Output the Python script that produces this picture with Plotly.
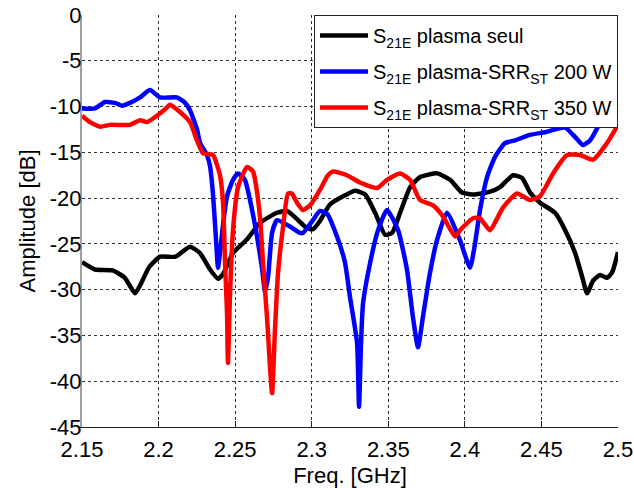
import plotly.graph_objects as go

# Frequency sweeps (GHz) and transmission amplitude S21E (dB)
freq_seul = [2.150, 2.1585, 2.170, 2.178, 2.1846, 2.188, 2.194, 2.201, 2.211, 2.2205,
             2.227, 2.2336, 2.2388, 2.2421, 2.2486, 2.2578, 2.2662, 2.2773, 2.2839, 2.2904,
             2.2969, 2.3008, 2.3054, 2.3119, 2.3217, 2.3283, 2.3349, 2.3414, 2.3479, 2.3525,
             2.3577, 2.3643, 2.3708, 2.3819, 2.3904, 2.3982, 2.4067, 2.4165, 2.4230, 2.4315,
             2.4374, 2.4426, 2.4491, 2.4589, 2.4655, 2.4720, 2.4766, 2.4798, 2.4838, 2.4883,
             2.4929, 2.4962, 2.5000]
s21_seul = [-27.0, -27.8, -27.9, -28.7, -30.4, -29.5, -27.5, -26.4, -26.4, -25.3,
            -26.0, -27.8, -28.8, -28.3, -26.0, -24.5, -22.7, -21.6, -21.4, -22.3,
            -23.3, -23.4, -22.5, -20.7, -19.7, -19.2, -19.6, -21.6, -24.0, -23.8,
            -21.6, -18.8, -17.7, -17.3, -18.0, -19.4, -19.6, -19.3, -18.8, -17.5,
            -17.8, -19.4, -20.5, -21.6, -23.5, -26.0, -28.6, -30.4, -29.0, -28.4,
            -28.7, -28.1, -25.9]

freq_200 = [2.150, 2.1585, 2.165, 2.1715, 2.176, 2.1813, 2.1879, 2.1944, 2.2009, 2.212,
            2.2173, 2.2205, 2.2251, 2.2271, 2.2316, 2.2336, 2.2355, 2.2375, 2.2388, 2.2401,
            2.2421, 2.2447, 2.2486, 2.2519, 2.2564, 2.2597, 2.2643, 2.2675, 2.2695, 2.2715,
            2.2741, 2.2773, 2.2858, 2.2924, 2.2943, 2.3008, 2.3054, 2.3100, 2.3165, 2.3217,
            2.3250, 2.3296, 2.3309, 2.3322, 2.3335, 2.3381, 2.3433, 2.3492, 2.3564, 2.3622,
            2.3661, 2.3694, 2.3726, 2.3772, 2.3818, 2.3883, 2.3968, 2.4034, 2.4066, 2.4099,
            2.4145, 2.4197, 2.4262, 2.4327, 2.4425, 2.4523, 2.4654, 2.4719, 2.4772, 2.4817,
            2.4869, 2.4915, 2.4961, 2.5000]
s21_200 = [-10.2, -10.2, -9.5, -9.6, -9.9, -9.6, -9.0, -8.2, -9.0, -9.0,
           -9.6, -10.4, -12.5, -14.0, -15.3, -16.5, -19.5, -24.5, -27.6, -26.0,
           -22.9, -19.8, -18.0, -17.3, -18.0, -20.2, -24.2, -27.6, -30.2, -28.6,
           -23.8, -22.4, -23.1, -23.8, -23.8, -22.4, -21.4, -21.7, -24.2, -27.0,
           -30.8, -35.8, -42.8, -35.8, -31.5, -27.1, -23.5, -21.3, -23.5, -27.8,
           -33.0, -36.3, -33.0, -28.2, -24.6, -21.6, -24.6, -27.6, -25.0, -21.3,
           -17.7, -15.5, -14.0, -13.7, -13.1, -12.8, -12.3, -13.3, -14.2, -13.7,
           -12.2, -10.5, -9.0, -8.0]

freq_350 = [2.150, 2.1552, 2.1618, 2.1683, 2.1813, 2.1879, 2.1924, 2.1990, 2.2042, 2.2075,
            2.2140, 2.2205, 2.2251, 2.2290, 2.2355, 2.2401, 2.2421, 2.2434, 2.2447, 2.2453,
            2.2466, 2.2486, 2.2519, 2.2578, 2.2617, 2.2630, 2.2662, 2.2682, 2.2708, 2.2741,
            2.2760, 2.2780, 2.2813, 2.2845, 2.2871, 2.2904, 2.2943, 2.2989, 2.3054, 2.3106,
            2.3139, 2.3230, 2.3315, 2.3426, 2.3492, 2.3577, 2.3642, 2.3707, 2.3792, 2.3857,
            2.3936, 2.3968, 2.4053, 2.4099, 2.4164, 2.4250, 2.4341, 2.4425, 2.4491, 2.4576,
            2.4667, 2.4752, 2.4837, 2.4928, 2.5000]
s21_350 = [-11.0, -11.7, -12.2, -12.0, -12.0, -11.5, -11.7, -11.0, -10.3, -9.8,
           -10.6, -11.7, -13.7, -15.1, -15.3, -17.5, -20.5, -27.1, -32.5, -38.0,
           -30.8, -23.5, -18.8, -16.6, -17.1, -18.0, -22.0, -27.1, -33.0, -41.3,
           -34.4, -28.2, -23.1, -19.5, -19.5, -20.5, -21.3, -20.8, -19.1, -17.5,
           -17.1, -17.5, -18.3, -18.9, -18.0, -17.3, -18.0, -20.2, -20.8, -22.0,
           -24.2, -23.5, -22.2, -22.2, -23.5, -21.0, -19.5, -20.2, -19.8, -17.3,
           -15.3, -15.3, -15.8, -14.0, -12.0]

x_ticks = [2.15, 2.2, 2.25, 2.3, 2.35, 2.4, 2.45, 2.5]
x_tick_text = ["2.15", "2.2", "2.25", "2.3", "2.35", "2.4", "2.45", "2.5"]
y_ticks = [0, -5, -10, -15, -20, -25, -30, -35, -40, -45]
y_tick_text = ["0", "-5", "-10", "-15", "-20", "-25", "-30", "-35", "-40", "-45"]

series = [
    (freq_seul, s21_seul, "S<sub>21E</sub> plasma seul", "#000000"),
    (freq_200, s21_200, "S<sub>21E</sub> plasma-SRR<sub>ST</sub> 200 W", "#0000ff"),
    (freq_350, s21_350, "S<sub>21E</sub> plasma-SRR<sub>ST</sub> 350 W", "#ff0000"),
]

fig = go.Figure()
for i, (fx, fy, label, color) in enumerate(series):
    fig.add_trace(go.Scatter(x=fx, y=fy, mode="lines", name=label,
                             legendgroup=f"g{i}",
                             line=dict(color=color, width=4.5,
                                       shape="spline", smoothing=0.5)))

font_family = "Liberation Sans, Arial, sans-serif"
fig.update_layout(
    width=634, height=488,
    margin=dict(l=82, r=16, t=15, b=61, autoexpand=False),
    paper_bgcolor="white", plot_bgcolor="white",
    font=dict(family=font_family, size=22, color="black"),
    showlegend=True,
    legend=dict(x=1, y=1, xanchor="right", yanchor="top",
                bgcolor="white", bordercolor="#222222", borderwidth=1,
                font=dict(size=20, color="black"),
                itemwidth=48, tracegroupgap=7),
)
fig.update_xaxes(
    range=[2.15, 2.5], tickvals=x_ticks, ticktext=x_tick_text,
    showgrid=True, gridcolor="#333333", griddash="dot", gridwidth=1,
    showline=True, linecolor="#222222", linewidth=1,
    ticks="inside", ticklen=6, tickcolor="#222222",
    zeroline=False, automargin=False,
    ticklabelstandoff=3,
    title=dict(text="Freq. [GHz]", standoff=7, font=dict(size=22)),
)
fig.update_yaxes(
    range=[-45, 0], tickvals=y_ticks, ticktext=y_tick_text,
    showgrid=True, gridcolor="#333333", griddash="dot", gridwidth=1,
    showline=True, linecolor="#a0a0a0", linewidth=2,
    ticks="", zeroline=False, automargin=False,
    ticklabelstandoff=-6,
    title=dict(text="Amplitude [dB]", standoff=8, font=dict(size=22)),
)

fig.write_html("out.html")
